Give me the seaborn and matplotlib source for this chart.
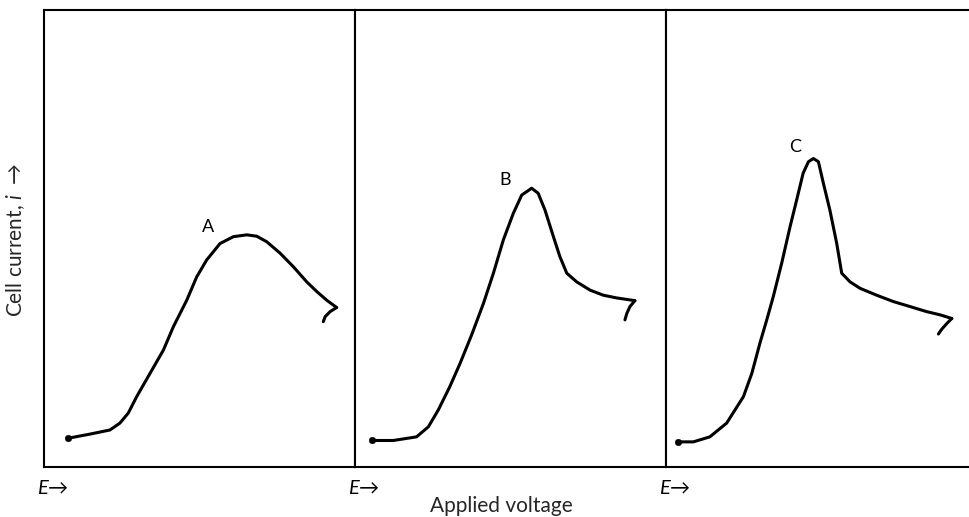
import matplotlib
matplotlib.use("Agg")
import matplotlib.pyplot as plt
import seaborn as sns
import pandas as pd

# ---- data (abstract units: E 0-10, i 0-10 within each panel) ----
a_x = [0.78, 1.48, 2.12, 2.44, 2.71, 2.98, 3.41, 3.84, 4.16, 4.59, 4.91, 5.23, 5.66, 6.09,
       6.52, 6.84, 7.16, 7.59, 8.02, 8.45, 8.77, 9.09, 9.41]
a_y = [0.63, 0.72, 0.81, 0.96, 1.18, 1.54, 2.05, 2.56, 3.07, 3.65, 4.16, 4.53, 4.89, 5.04,
       5.08, 5.05, 4.93, 4.68, 4.38, 4.05, 3.84, 3.65, 3.49]
a_hook_x = [9.41, 9.20, 9.04, 8.98]
a_hook_y = [3.49, 3.40, 3.29, 3.18]

b_x = [0.54, 1.23, 1.98, 2.36, 2.68, 3.05, 3.38, 3.75, 4.13, 4.45, 4.77, 5.09, 5.36, 5.68,
       5.89, 6.11, 6.38, 6.59, 6.81, 7.13, 7.56, 7.98, 8.41, 9.00]
b_y = [0.58, 0.58, 0.66, 0.88, 1.25, 1.76, 2.27, 2.89, 3.58, 4.24, 4.97, 5.55, 5.95, 6.10,
       5.99, 5.62, 5.04, 4.60, 4.24, 4.05, 3.87, 3.76, 3.70, 3.64]
b_hook_x = [9.00, 8.84, 8.74, 8.68]
b_hook_y = [3.64, 3.51, 3.36, 3.22]

c_x = [0.40, 0.88, 1.41, 1.95, 2.49, 2.76, 3.02, 3.24, 3.45, 3.72, 3.99, 4.20, 4.41, 4.58,
       4.74, 4.90, 5.06, 5.27, 5.49, 5.65, 5.92, 6.24, 6.77, 7.31, 7.85, 8.38, 8.81, 9.19]
c_y = [0.55, 0.55, 0.66, 0.96, 1.54, 2.05, 2.71, 3.22, 3.73, 4.46, 5.26, 5.84, 6.43, 6.68,
       6.75, 6.68, 6.21, 5.62, 4.89, 4.24, 4.05, 3.91, 3.76, 3.62, 3.51, 3.40, 3.33, 3.25]
c_hook_x = [9.19, 9.03, 8.86, 8.76]
c_hook_y = [3.25, 3.14, 3.01, 2.91]

curve_labels = ["A", "B", "C"]
x_title = "Applied voltage"
y_title = "Cell current, $i$  →"

sns.set_style("white")
plt.rcParams["font.family"] = ["Lato", "DejaVu Sans"]
plt.rcParams["mathtext.fontset"] = "custom"
plt.rcParams["mathtext.it"] = "Lato:italic"
plt.rcParams["mathtext.rm"] = "Lato"

fig = plt.figure(figsize=(9.70, 5.17), dpi=100)
W, H = 970.0, 517.0
left, top, bottom = 44.0, 10.0, 467.0
pw = 311.0

panels = [(a_x, a_y, a_hook_x, a_hook_y, (5.27, 5.25)),
          (b_x, b_y, b_hook_x, b_hook_y, (4.82, 6.28)),
          (c_x, c_y, c_hook_x, c_hook_y, (4.15, 7.00))]

for k, (xs, ys, hx, hy, lab_pos) in enumerate(panels):
    x0 = left + k * pw
    ax = fig.add_axes([x0 / W, (H - bottom) / H, pw / W, (bottom - top) / H])
    df = pd.DataFrame({"E": xs, "i": ys})
    dh = pd.DataFrame({"E": hx, "i": hy})
    sns.lineplot(data=df, x="E", y="i", sort=False, estimator=None, ax=ax,
                 color="black", linewidth=2.2)
    sns.lineplot(data=dh, x="E", y="i", sort=False, estimator=None, ax=ax,
                 color="black", linewidth=2.2)
    sns.scatterplot(x=[xs[0]], y=[ys[0]], ax=ax, color="black", s=22, edgecolor="black")
    ax.set_xlim(0, 10)
    ax.set_ylim(0, 10)
    ax.set_xticks([])
    ax.set_yticks([])
    ax.set_xlabel("")
    ax.set_ylabel("")
    for sp in ax.spines.values():
        sp.set_visible(True)
        sp.set_color("black")
        sp.set_linewidth(1.5)
    ax.text(lab_pos[0], lab_pos[1], curve_labels[k], ha="center", va="center",
            fontsize=13, color="black")
    ax.text(-0.022, -0.045, r"$E$" + "→", transform=ax.transAxes, ha="left",
            va="center", fontsize=14.5, color="black")

fig.text(501 / W, 1 - 506 / H, x_title, ha="center", va="center", fontsize=15)
fig.text(16 / W, 1 - 240 / H, y_title, ha="center", va="center", fontsize=15,
         rotation=90)

fig.savefig("out.png", dpi=100)
